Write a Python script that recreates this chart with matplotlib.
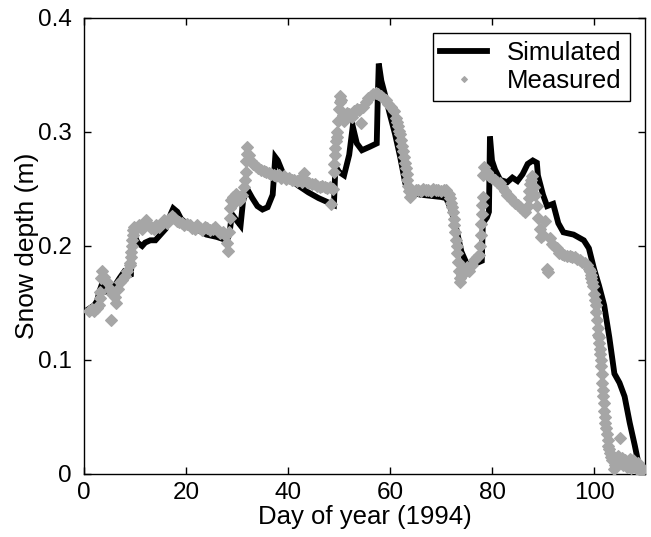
import matplotlib
matplotlib.use("Agg")
import matplotlib.pyplot as plt

plt.rcParams['font.family'] = ['Liberation Sans', 'DejaVu Sans']

sim_day = [1, 2, 2.6, 3, 3.4, 4, 5, 6, 7, 7.8, 8.5, 9.2, 9.5, 9.8, 10.5, 11.4, 12, 13, 14, 15, 16, 17, 17.5,
           18.3, 19, 20, 22, 24, 26, 28, 28.5, 29, 30, 30.7, 31.2, 32, 33, 34, 35, 36, 37, 37.5, 38, 39, 40, 42,
           44, 46, 48, 49, 49.3, 50, 51, 52, 52.7, 53.5, 54.5, 56, 57.4, 57.6, 57.8, 58.3, 59, 60, 61, 62, 63,
           63.5, 64, 66, 68, 70, 71, 72, 73, 74, 75, 76, 77, 78, 78.2, 79, 79.4, 79.6, 80, 80.6, 81.6, 83, 84,
           85, 86, 87, 88, 88.8, 89, 90, 90.8, 92, 93, 94, 96, 98, 99, 100, 101, 102, 103, 104, 105, 106, 107,
           108, 108.6, 109]
sim_val = [0.145, 0.148, 0.152, 0.160, 0.165, 0.160, 0.160, 0.165, 0.172, 0.177, 0.174, 0.175, 0.205, 0.210,
           0.203, 0.200, 0.203, 0.205, 0.205, 0.210, 0.215, 0.228, 0.233, 0.230, 0.224, 0.220, 0.215, 0.210,
           0.208, 0.205, 0.210, 0.228, 0.222, 0.218, 0.240, 0.250, 0.242, 0.235, 0.232, 0.234, 0.245, 0.278,
           0.275, 0.264, 0.260, 0.253, 0.247, 0.242, 0.238, 0.236, 0.270, 0.265, 0.262, 0.280, 0.305, 0.290,
           0.284, 0.287, 0.290, 0.330, 0.360, 0.345, 0.333, 0.315, 0.298, 0.278, 0.255, 0.250, 0.247, 0.245,
           0.244, 0.243, 0.242, 0.232, 0.215, 0.195, 0.185, 0.184, 0.185, 0.187, 0.220, 0.225, 0.230, 0.296,
           0.275, 0.267, 0.258, 0.256, 0.260, 0.257, 0.263, 0.272, 0.275, 0.273, 0.262, 0.245, 0.235, 0.237,
           0.220, 0.212, 0.210, 0.205, 0.198, 0.180, 0.165, 0.148, 0.120, 0.088, 0.080, 0.068, 0.045, 0.025,
           0.012, 0.002]

meas_day = [1.0, 1.5, 2.0, 2.5, 3.0, 3.1, 3.2, 3.3, 3.5, 4.0, 4.5, 5.0, 5.3, 5.5, 6.0, 6.3, 6.6, 7.0, 7.5,
            8.0, 8.5, 9.0, 9.1, 9.2, 9.3, 9.4, 9.5, 9.6, 9.7, 9.8, 10.3, 10.8, 11.3, 11.8, 12.2, 12.7, 13.2,
            13.7, 14.2, 14.7, 15.2, 15.7, 16.2, 16.7, 17.2, 17.7, 18.2, 18.7, 19.2, 19.7, 20.2, 20.7, 21.2,
            21.7, 22.2, 22.7, 23.2, 23.7, 24.2, 24.7, 25.2, 25.7, 26.2, 26.7, 27.2, 27.7, 28.0, 28.3, 28.5,
            28.6, 28.7, 28.9, 29.2, 29.5, 29.8, 30.2, 30.6, 31.0, 31.4, 31.6, 31.7, 31.8, 31.9, 32.0, 32.4,
            32.8, 33.2, 33.7, 34.2, 34.7, 35.2, 35.7, 36.2, 36.7, 37.2, 37.7, 38.2, 38.7, 39.2, 39.7, 40.2,
            40.7, 41.2, 41.7, 42.2, 42.7, 43.2, 43.7, 44.2, 44.7, 45.2, 45.7, 46.2, 46.7, 47.2, 47.7, 48.2,
            48.5, 48.8, 49.0, 49.1, 49.2, 49.3, 49.4, 49.6, 49.7, 49.9, 50.0, 50.1, 50.2, 50.4, 50.7, 51.0,
            51.5, 52.0, 52.5, 53.0, 53.5, 54.0, 54.3, 54.7, 55.2, 55.7, 56.2, 56.7, 57.2, 57.7, 58.2, 58.7,
            59.2, 59.7, 60.2, 60.7, 61.2, 61.4, 61.6, 61.8, 62.0, 62.2, 62.4, 62.6, 62.8, 63.0, 63.1, 63.3,
            63.4, 63.6, 63.7, 64.0, 64.5, 65.0, 65.5, 66.0, 66.5, 67.0, 67.5, 68.0, 68.5, 69.0, 69.5, 70.0,
            70.5, 71.0, 71.5, 71.8, 72.0, 72.2, 72.3, 72.5, 72.6, 72.8, 72.9, 73.1, 73.2, 73.4, 73.5, 73.7,
            73.8, 74.1, 74.5, 75.0, 75.5, 76.0, 76.5, 77.0, 77.5, 77.7, 77.8, 77.9, 78.0, 78.1, 78.2, 78.3,
            78.5, 79.0, 79.5, 80.0, 80.5, 81.0, 81.5, 82.0, 82.5, 83.0, 83.5, 84.0, 84.5, 85.0, 85.5, 86.0,
            86.5, 87.0, 87.2, 87.3, 87.5, 87.6, 87.9, 88.2, 88.5, 88.8, 89.1, 89.4, 89.7, 90.0, 90.4, 90.8,
            91.0, 91.3, 91.7, 92.2, 92.7, 93.2, 93.7, 94.2, 94.7, 95.2, 95.7, 96.2, 96.7, 97.2, 97.7, 98.2,
            98.7, 99.0, 99.2, 99.4, 99.5, 99.7, 99.8, 100.0, 100.1, 100.3, 100.4, 100.6, 100.7, 100.8, 100.9,
            101.0, 101.1, 101.2, 101.3, 101.4, 101.5, 101.6, 101.7, 101.8, 101.9, 102.0, 102.1, 102.2, 102.4,
            102.5, 102.7, 102.8, 103.0, 103.2, 103.4, 103.6, 103.9, 104.2, 104.4, 104.6, 104.8, 105.0, 105.3,
            105.5, 105.7, 106.1, 106.3, 106.5, 106.9, 107.1, 107.3, 107.7, 107.9, 108.1, 108.5, 108.7, 108.9,
            109.3, 109.7]
meas_val = [0.143, 0.145, 0.143, 0.146, 0.148, 0.154, 0.160, 0.172, 0.178, 0.173, 0.168, 0.162, 0.135,
            0.158, 0.155, 0.150, 0.162, 0.168, 0.170, 0.174, 0.178, 0.183, 0.185, 0.190, 0.195, 0.200, 0.205,
            0.210, 0.214, 0.217, 0.216, 0.218, 0.215, 0.220, 0.223, 0.218, 0.216, 0.215, 0.218, 0.217, 0.220,
            0.223, 0.220, 0.224, 0.226, 0.225, 0.222, 0.221, 0.220, 0.218, 0.219, 0.218, 0.216, 0.215, 0.218,
            0.216, 0.214, 0.217, 0.216, 0.214, 0.215, 0.217, 0.213, 0.211, 0.212, 0.210, 0.203, 0.196, 0.212,
            0.225, 0.233, 0.240, 0.243, 0.238, 0.246, 0.242, 0.240, 0.245, 0.252, 0.258, 0.265, 0.275, 0.281,
            0.287, 0.280, 0.275, 0.272, 0.270, 0.268, 0.267, 0.266, 0.265, 0.264, 0.263, 0.262, 0.261, 0.262,
            0.260, 0.261, 0.259, 0.260, 0.258, 0.258, 0.257, 0.258, 0.256, 0.264, 0.256, 0.255, 0.254, 0.254,
            0.253, 0.252, 0.253, 0.252, 0.251, 0.252, 0.237, 0.250, 0.265, 0.272, 0.280, 0.286, 0.292, 0.296,
            0.300, 0.310, 0.320, 0.326, 0.332, 0.328, 0.315, 0.310, 0.317, 0.316, 0.313, 0.318, 0.320, 0.319,
            0.308, 0.322, 0.326, 0.330, 0.332, 0.333, 0.334, 0.333, 0.332, 0.330, 0.328, 0.325, 0.322, 0.318,
            0.312, 0.309, 0.305, 0.301, 0.298, 0.293, 0.288, 0.283, 0.278, 0.273, 0.268, 0.263, 0.258, 0.253,
            0.248, 0.243, 0.247, 0.249, 0.249, 0.248, 0.250, 0.249, 0.249, 0.248, 0.250, 0.249, 0.249, 0.248,
            0.249, 0.249, 0.246, 0.242, 0.238, 0.234, 0.230, 0.224, 0.218, 0.212, 0.205, 0.200, 0.194, 0.186,
            0.178, 0.172, 0.168, 0.175, 0.180, 0.182, 0.178, 0.183, 0.188, 0.190, 0.192, 0.200, 0.210, 0.219,
            0.228, 0.236, 0.243, 0.262, 0.269, 0.265, 0.261, 0.260, 0.258, 0.256, 0.255, 0.252, 0.248, 0.245,
            0.243, 0.240, 0.238, 0.236, 0.234, 0.232, 0.230, 0.235, 0.242, 0.248, 0.254, 0.258, 0.261, 0.252,
            0.245, 0.235, 0.225, 0.215, 0.208, 0.210, 0.222, 0.180, 0.177, 0.207, 0.202, 0.200, 0.198, 0.194,
            0.193, 0.192, 0.191, 0.191, 0.190, 0.190, 0.189, 0.188, 0.186, 0.185, 0.183, 0.180, 0.178, 0.175,
            0.172, 0.168, 0.165, 0.158, 0.153, 0.148, 0.142, 0.135, 0.128, 0.122, 0.120, 0.115, 0.110, 0.105,
            0.100, 0.095, 0.088, 0.080, 0.074, 0.068, 0.062, 0.055, 0.050, 0.045, 0.040, 0.035, 0.030, 0.025,
            0.022, 0.018, 0.015, 0.012, 0.004, 0.008, 0.010, 0.012, 0.016, 0.032, 0.010, 0.014, 0.008, 0.012,
            0.009, 0.006, 0.010, 0.013, 0.005, 0.012, 0.009, 0.008, 0.004, 0.010, 0.006, 0.003, 0.004]

x_ticks = [0, 20, 40, 60, 80, 100]
y_ticks = [0, 0.1, 0.2, 0.3, 0.4]
y_tick_labels = ["0", "0.1", "0.2", "0.3", "0.4"]

GRAY = "#a6a6a6"

fig = plt.figure(figsize=(6.51, 5.37), dpi=100)
ax = fig.add_axes([84 / 651, 63 / 537, 561 / 651, 456 / 537])

ax.plot(sim_day, sim_val, color="black", lw=4.2, solid_joinstyle="miter", label="Simulated", zorder=2)
ax.plot(meas_day, meas_val, linestyle="none", marker="D", markersize=6, color=GRAY,
        markeredgecolor=GRAY, markeredgewidth=0.8, label="Measured", zorder=3)

ax.set_xlim(0, 110)
ax.set_ylim(0, 0.4)
ax.set_xticks(x_ticks)
ax.set_yticks(y_ticks)
ax.set_yticklabels(y_tick_labels)
ax.tick_params(direction="in", length=5, width=1, top=True, right=True, labelsize=17.5, pad=9)
ax.tick_params(axis="x", pad=6)
for s in ax.spines.values():
    s.set_linewidth(1.0)

ax.set_xlabel("Day of year (1994)", fontsize=18.5, labelpad=0.3)
ax.set_ylabel("Snow depth (m)", fontsize=19, labelpad=-1)

leg = ax.legend(loc="upper right", fontsize=18.5, frameon=True, fancybox=False, edgecolor="black",
                framealpha=1, borderpad=0.3, handlelength=1.8, handletextpad=0.8, labelspacing=0.15,
                markerscale=0.5, borderaxespad=0.6)
leg.get_frame().set_linewidth(1.0)

fig.savefig("out.png", dpi=100)
